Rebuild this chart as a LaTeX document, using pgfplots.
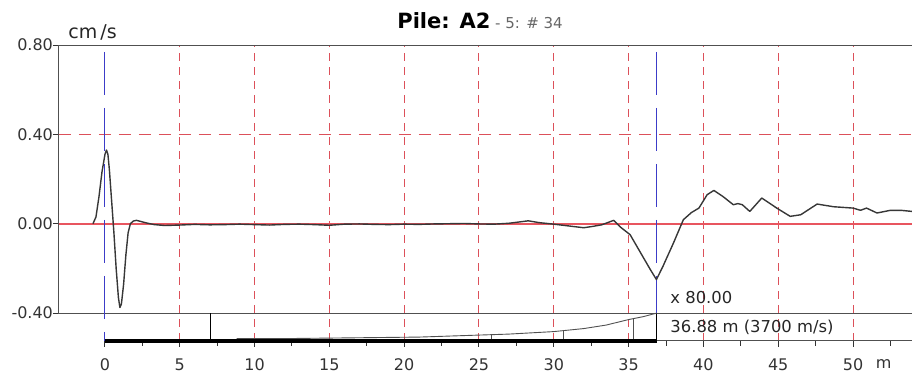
\documentclass[border=0pt]{standalone}
\usepackage{pgfplots}
\pgfplotsset{compat=1.18}
\usepackage{fontspec}
\setmainfont{DejaVu Sans}
\definecolor{gridred}{RGB}{220,80,90}
\definecolor{zerored}{RGB}{232,85,95}
\definecolor{markblue}{RGB}{60,60,200}
\definecolor{framec}{RGB}{80,80,80}
\definecolor{sig}{RGB}{55,55,55}
\begin{document}
\begin{tikzpicture}
\begin{axis}[
  at={(0,0)}, anchor=south west,
  scale only axis, width=426.5pt, height=148pt,
  xmin=-3.07, xmax=53.94, ymin=-0.525, ymax=0.8,
  clip=false,
  axis line style={draw=none},
  tick align=outside, xtick pos=left, ytick pos=left,
  xtick={0,5,...,50}, xticklabels={0,5,10,15,20,25,30,35,40,45,50},
  minor xtick={2.5,7.5,...,52.5},
  ytick={-0.4,0,0.4,0.8}, yticklabels={-0.40,0.00,0.40,0.80},
  major tick length=3pt, minor tick length=2.5pt,
  tick style={black!80, line width=0.5pt},
  ticklabel style={font=\fontsize{8}{9.6}\selectfont, text=black!80},
  xticklabel style={yshift=-2.5pt},
  yticklabel style={xshift=3.5pt},
]
% vertical grid
\pgfplotsinvokeforeach{5,10,...,50}{
  \addplot[gridred, dash pattern=on 4pt off 3pt, line width=0.5pt, forget plot] coordinates {(#1,-0.525) (#1,0.8)};
}
% horizontal grid
\addplot[gridred, dash pattern=on 6pt off 4pt, line width=0.5pt, forget plot] coordinates {(-3.07,0.4) (53.94,0.4)};
\addplot[draw=zerored, line width=0.9pt, forget plot] coordinates {(-3.07,0) (53.94,0)};
% frame
\addplot[framec, line width=0.5pt, forget plot] coordinates {(53.94,0.8) (-3.07,0.8) (-3.07,-0.4) (53.94,-0.4)};
\addplot[framec, line width=0.5pt, forget plot] coordinates {(36.88,-0.525) (53.94,-0.525)};
% markers
\addplot[markblue, line width=0.55pt, dash pattern=on 21.5pt off 6.5pt, forget plot] coordinates {(0,0.769) (0,-0.525)};
\addplot[markblue, line width=0.55pt, dash pattern=on 21.5pt off 6.5pt, forget plot] coordinates {(36.88,0.769) (36.88,-0.4)};
\addplot[black, line width=0.5pt, forget plot] coordinates {(36.88,-0.4) (36.88,-0.525)};
\addplot[black, line width=0.5pt, forget plot] coordinates {(7.03,-0.4) (7.03,-0.525)};
% amplification curve
\addplot[framec, line width=0.45pt, forget plot] coordinates {
(8.8,-0.5142) (12,-0.5142) (15,-0.5120) (18,-0.5097) (21,-0.5075) (23,-0.5030)
(25,-0.4985) (27,-0.4941) (30,-0.4829) (32,-0.4694) (33.5,-0.4537) (35,-0.4291)
(36,-0.4157) (36.88,-0.4)};
\addplot[framec, line width=0.45pt, forget plot] coordinates {(25.85,-0.496) (25.85,-0.525)};
\addplot[framec, line width=0.45pt, forget plot] coordinates {(30.65,-0.480) (30.65,-0.525)};
\addplot[framec, line width=0.45pt, forget plot] coordinates {(35.3,-0.426) (35.3,-0.525)};
% thick bar
\addplot[black, line width=2pt, forget plot] coordinates {(0,-0.525) (36.88,-0.525)};
% signal
\addplot[sig, line width=0.7pt, line join=round] coordinates {
(-0.8,0) (-0.6,0.03) (-0.4,0.12) (-0.2,0.23) (0.0,0.31) (0.1,0.33) (0.2,0.31) (0.3,0.24)
(0.45,0.1) (0.6,-0.04) (0.75,-0.2) (0.9,-0.33) (1.0,-0.375) (1.1,-0.36) (1.25,-0.27)
(1.4,-0.14) (1.55,-0.04) (1.7,0.0) (1.9,0.012) (2.1,0.015) (2.4,0.01) (2.8,0.003)
(3.3,-0.004) (4,-0.008) (5,-0.006) (6,-0.003) (7,-0.005) (8,-0.004) (9,-0.002)
(10,-0.004) (11,-0.006) (12,-0.003) (13,-0.002) (14,-0.004) (15,-0.007) (16,-0.002)
(17,-0.001) (18,-0.003) (19,-0.004) (20,-0.002) (21,-0.003) (22,-0.001) (23,0.0)
(24,0.001) (25,-0.001) (26,-0.002) (27,0.002) (28.3,0.013) (29,0.005) (30,-0.002)
(31,-0.01) (32,-0.018) (32.6,-0.012) (33.2,-0.005) (34.0,0.015) (34.45,-0.015)
(35.1,-0.049) (35.8,-0.13) (36.45,-0.205) (36.86,-0.25) (37.3,-0.19) (38.0,-0.086)
(38.66,0.018) (39.2,0.05) (39.7,0.07) (40.25,0.13) (40.7,0.149) (41.3,0.122)
(42.0,0.085) (42.3,0.09) (42.6,0.085) (43.1,0.055) (43.9,0.115) (44.9,0.07)
(45.8,0.033) (46.5,0.04) (47.6,0.088) (48.7,0.076) (50.0,0.07) (50.5,0.06)
(50.9,0.07) (51.6,0.048) (52.5,0.06) (53.2,0.06) (53.94,0.055)};
% texts
\node[anchor=base west, inner sep=0pt] at (axis cs:19.52,0.876)
  {{\bfseries\fontsize{10.5}{12}\selectfont Pile: A2}{\color{black!60}\fontsize{7.5}{9}\selectfont\ - 5: \# 34}};
\node[anchor=base west, inner sep=0pt, text=black!85] at (axis cs:-2.47,0.831)
  {\fontsize{9.5}{11}\selectfont cm\,/s};
\node[anchor=base west, inner sep=0pt, text=black!85] at (axis cs:37.77,-0.3567)
  {\fontsize{8.2}{9.8}\selectfont x 80.00};
\node[anchor=base west, inner sep=0pt, text=black!85] at (axis cs:37.77,-0.4866)
  {\fontsize{8.2}{9.8}\selectfont 36.88 m (3700 m/s)};
\node[anchor=base, inner sep=0pt, text=black!80] at (axis cs:52.05,-0.6463)
  {\fontsize{8}{9.6}\selectfont m};
\end{axis}
\pgfresetboundingbox
\path[use as bounding box] (-29.5pt,-16.5pt) rectangle (426.5pt,170.5pt);
\end{tikzpicture}
\end{document}
